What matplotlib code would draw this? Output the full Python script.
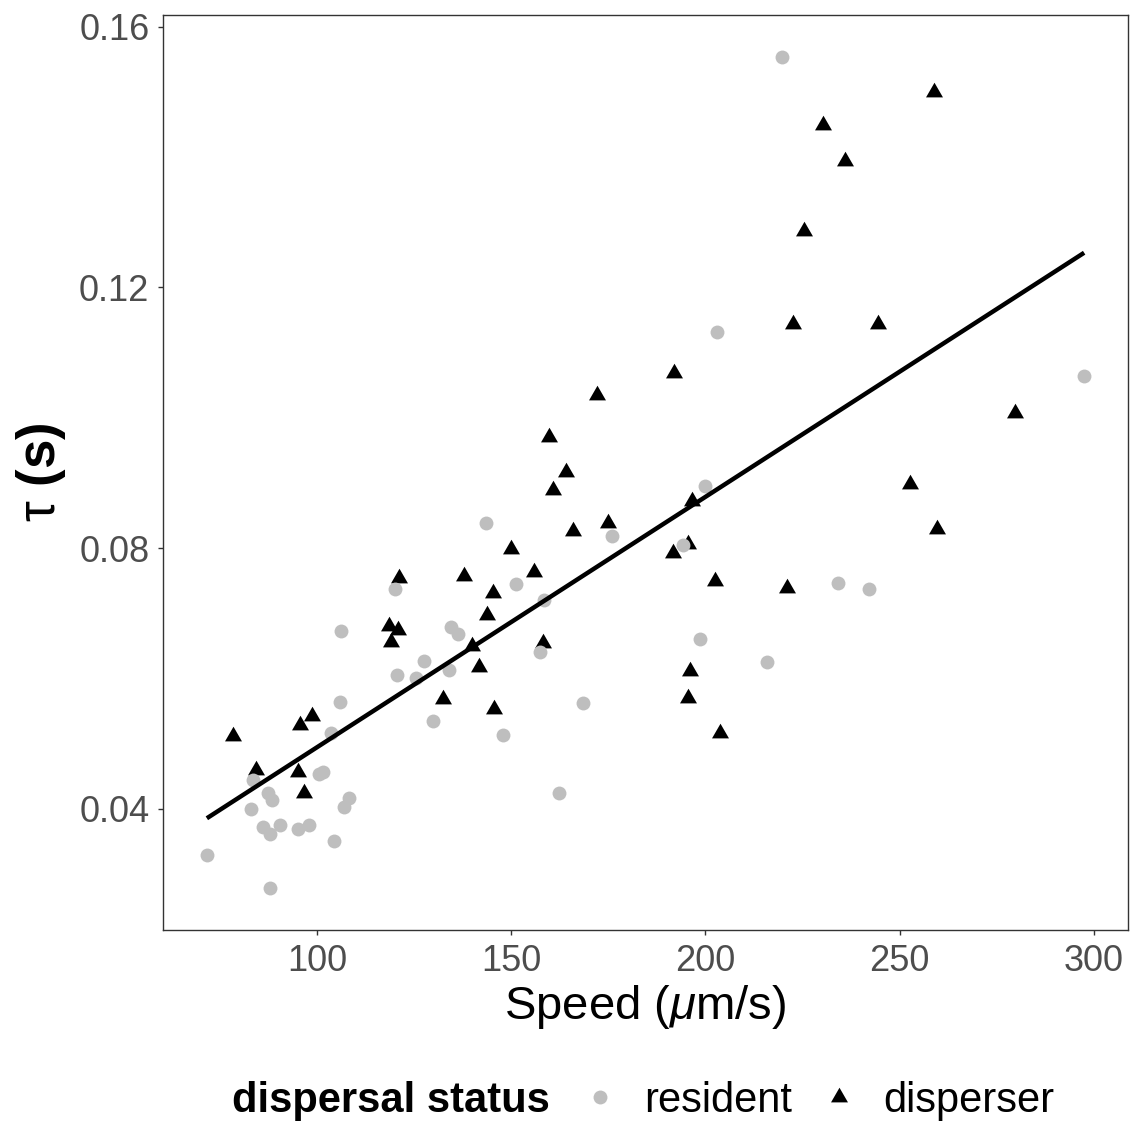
import numpy as np
import matplotlib
matplotlib.use("Agg")
import matplotlib.pyplot as plt
from matplotlib.lines import Line2D

plt.rcParams['font.family'] = ['Liberation Sans', 'DejaVu Sans']
plt.rcParams['mathtext.fontset'] = 'custom'
plt.rcParams['mathtext.rm'] = 'Liberation Sans'
plt.rcParams['mathtext.it'] = 'Liberation Sans:italic'
plt.rcParams['mathtext.bf'] = 'Liberation Sans:bold'

# resident cells (grey circles)
res_speed = [71.6, 87.8, 83.0, 86.0, 87.8, 90.4, 95.1, 97.9, 104.4, 107.0, 108.2,
             87.3, 88.5, 83.4, 100.6, 101.5, 103.5, 105.9, 106.2, 120.5, 120.1,
             127.5, 125.4, 129.8, 133.9, 134.4, 136.2, 143.4, 151.1, 158.4, 175.8,
             157.5, 147.8, 168.5, 162.2, 203.0, 200.0, 194.2, 234.2, 242.2, 198.5,
             215.9, 219.8, 297.5]
res_tau = [0.0329, 0.0278, 0.0400, 0.0372, 0.0362, 0.0376, 0.0369, 0.0376, 0.0351,
           0.0403, 0.0416, 0.0424, 0.0414, 0.0445, 0.0453, 0.0456, 0.0516, 0.0564,
           0.0673, 0.0605, 0.0738, 0.0627, 0.0600, 0.0535, 0.0613, 0.0679, 0.0669,
           0.0838, 0.0745, 0.0720, 0.0819, 0.0641, 0.0513, 0.0563, 0.0424, 0.1131,
           0.0896, 0.0805, 0.0746, 0.0738, 0.0660, 0.0625, 0.1554, 0.1064]

# disperser cells (black triangles)
dis_speed = [78.4, 84.2, 95.5, 98.7, 95.0, 96.5, 118.5, 120.8, 118.9, 132.3, 121.2,
             159.6, 164.2, 160.8, 166.0, 174.8, 149.8, 137.7, 155.9, 145.3, 143.7,
             139.8, 141.6, 158.1, 145.6, 222.5, 244.3, 192.0, 172.0, 196.6, 252.7,
             259.7, 195.5, 191.6, 202.5, 220.9, 196.1, 195.5, 203.7, 258.9, 230.3,
             235.8, 225.3, 279.6]
dis_tau = [0.0512, 0.0460, 0.0528, 0.0542, 0.0456, 0.0424, 0.0680, 0.0674, 0.0656,
           0.0568, 0.0754, 0.0970, 0.0917, 0.0889, 0.0827, 0.0838, 0.0798, 0.0757,
           0.0764, 0.0731, 0.0697, 0.0650, 0.0618, 0.0654, 0.0553, 0.1144, 0.1144,
           0.1068, 0.1035, 0.0873, 0.0899, 0.0830, 0.0806, 0.0793, 0.0749, 0.0739,
           0.0611, 0.0570, 0.0517, 0.1500, 0.1449, 0.1394, 0.1286, 0.1008]

x_ticks = [100, 150, 200, 250, 300]
y_ticks = [0.04, 0.08, 0.12, 0.16]

# R-style triangle (centred on its centroid)
tri = [(0, 1), (-0.866, -0.5), (0.866, -0.5), (0, 1)]

fig = plt.figure(figsize=(11.36, 11.27), dpi=100)
ax = fig.add_axes([163/1136, 1 - 930/1127, (1128-163)/1136, (930-15)/1127])

ax.scatter(dis_speed, dis_tau, marker=tri, s=199, color='black', linewidths=0, zorder=2)
ax.scatter(res_speed, res_tau, marker='o', s=100, color='#BEBEBE', linewidths=0, zorder=3)

# linear fit over all cells
all_x = np.array(res_speed + dis_speed)
all_y = np.array(res_tau + dis_tau)
slope, icpt = np.polyfit(all_x, all_y, 1)
fx = np.array([all_x.min(), all_x.max()])
ax.plot(fx, slope * fx + icpt, color='black', lw=3.2, solid_capstyle='butt', zorder=4)

ax.margins(0.05)
ax.set_xticks(x_ticks)
ax.set_yticks(y_ticks)
ax.set_yticklabels([f"{v:.2f}" for v in y_ticks])
ax.tick_params(direction='out', length=3.8, width=1.0, color='#333333',
               labelsize=26, labelcolor='#4D4D4D', pad=6)
for sp in ax.spines.values():
    sp.set_color('#333333')
    sp.set_linewidth(1.0)

ax.set_xlabel(r'Speed ($\mu$m/s)', fontsize=34)
ax.xaxis.set_label_coords(0.5, -0.058)
ax.set_ylabel(r'$\mathrm{\tau}\ \mathbf{(s)}$', fontsize=38)
ax.yaxis.set_label_coords(-0.098, 0.5)

# legend along the bottom
fig.text(232/1136, 1 - 1101/1127, 'dispersal status', fontsize=30, fontweight='bold',
         ha='left', va='center')
handles = [Line2D([], [], ls='none', marker='o', ms=10, color='#BEBEBE', mew=0),
           Line2D([], [], ls='none', marker=tri, ms=14.1, color='black', mew=0)]
fig.legend(handles, ['resident', 'disperser'], ncol=2, loc='center left',
           bbox_to_anchor=(579/1136, 1 - 1101/1127), frameon=False, fontsize=30,
           handlelength=1.0, handletextpad=0.57, columnspacing=0.62, borderpad=0,
           borderaxespad=0)

fig.savefig('out.png', dpi=100)
